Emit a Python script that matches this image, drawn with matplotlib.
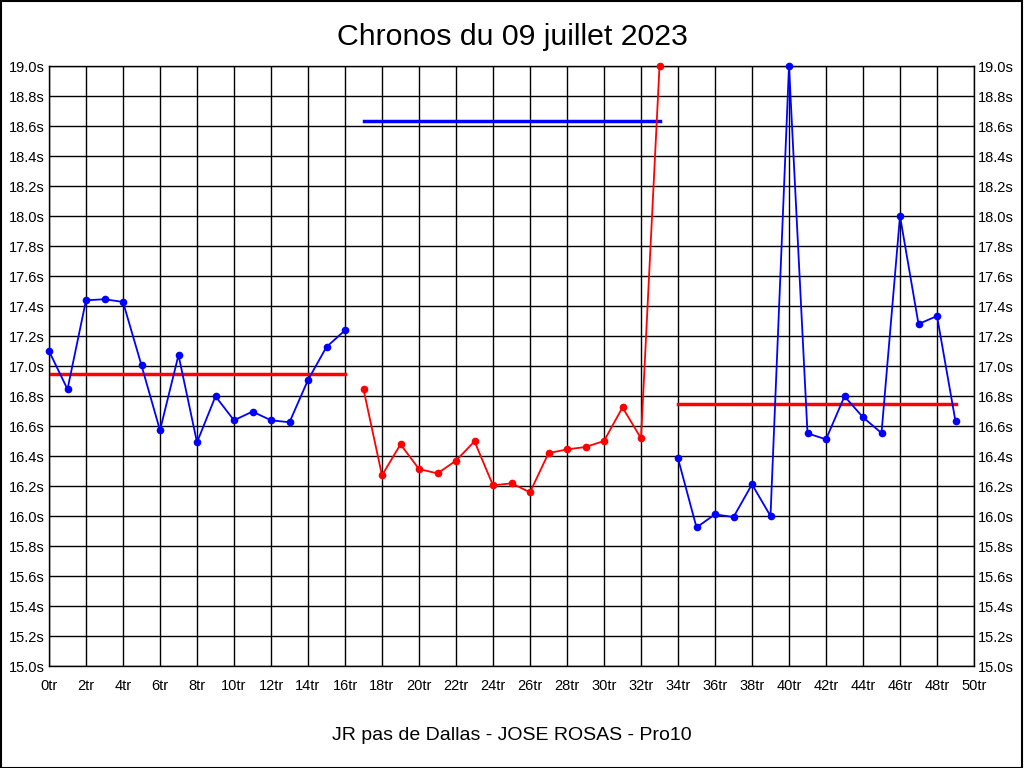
import matplotlib.pyplot as plt
import numpy as np

plt.rcParams['font.family'] = ['Liberation Sans', 'DejaVu Sans']

# lap times, three segments
laps_a = list(range(0, 17))
times_a = [17.10, 16.845, 17.438, 17.445, 17.427, 17.004, 16.571, 17.073, 16.491,
           16.798, 16.638, 16.696, 16.638, 16.625, 16.907, 17.127, 17.238]
laps_b = list(range(17, 34))
times_b = [16.845, 16.271, 16.478, 16.313, 16.284, 16.369, 16.498, 16.204, 16.218,
           16.158, 16.419, 16.444, 16.46, 16.50, 16.724, 16.518, 19.0]
laps_c = list(range(34, 50))
times_c = [16.384, 15.924, 16.011, 15.993, 16.211, 16.0, 19.0, 16.551, 16.511,
           16.798, 16.658, 16.553, 18.0, 17.28, 17.333, 16.631]

# average lines (start, end, value)
mean_a = (0, 16, 16.945)
mean_b = (17, 33, 18.633)
mean_c = (34, 49, 16.745)

fig = plt.figure(figsize=(10.24, 7.68), dpi=100)
ax = fig.add_axes([49/1024, 102/768, 925/1024, 600/768])

ax.plot(laps_a, times_a, color='blue', lw=1.3, marker='o', ms=4.5, clip_on=False, zorder=3)
ax.plot(laps_b, times_b, color='red', lw=1.3, marker='o', ms=4.5, clip_on=False, zorder=3)
ax.plot(laps_c, times_c, color='blue', lw=1.3, marker='o', ms=4.5, clip_on=False, zorder=3)

ax.plot(mean_a[:2], [mean_a[2]] * 2, color='red', lw=2.5, zorder=2)
ax.plot(mean_b[:2], [mean_b[2]] * 2, color='blue', lw=2.5, zorder=2)
ax.plot(mean_c[:2], [mean_c[2]] * 2, color='red', lw=2.5, zorder=2)

ax.set_xlim(0, 50)
ax.set_ylim(15.0, 19.0)
xt = np.arange(0, 51, 2)
yt = np.arange(15.0, 19.01, 0.2)
ax.set_xticks(xt)
ax.set_xticklabels([f'{v}tr' for v in xt])
ax.set_yticks(yt)
ax.set_yticklabels([f'{v:.1f}s' for v in yt])
ax.tick_params(axis='x', length=0, labelsize=10.5, pad=9)
ax.tick_params(axis='y', length=0, labelsize=10.5, left=True, right=True,
               labelleft=True, labelright=True, pad=3)
ax.grid(True, color='black', lw=1)
ax.set_axisbelow(True)
for s in ax.spines.values():
    s.set_color('black')
    s.set_linewidth(1)

fig.text(0.5, 1 - 37/768, 'Chronos du 09 juillet 2023', ha='center', va='center', fontsize=21.8)
fig.text(0.5, 1 - 736/768, 'JR pas de Dallas - JOSE ROSAS - Pro10', ha='center', va='center', fontsize=14)

# outer frame
fig.patches.append(plt.Rectangle((0.0005, 0.0005), 0.998, 0.998, transform=fig.transFigure,
                                 fill=False, edgecolor='black', lw=1.5))

fig.savefig('out.png', dpi=100)
